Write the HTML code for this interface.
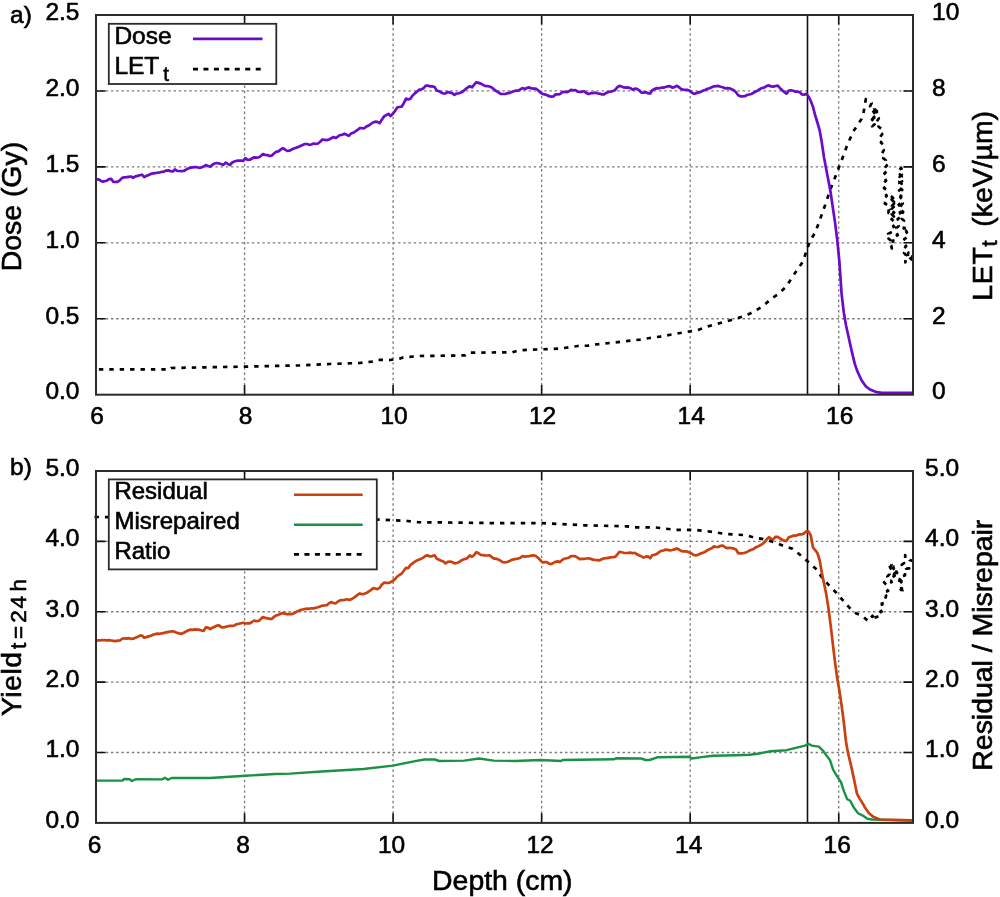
<!DOCTYPE html><html><head><meta charset="utf-8"><style>html,body{margin:0;padding:0;background:#fff;}svg{display:block;will-change:transform;}text{stroke:#000;stroke-width:0.6px;}</style></head><body>
<svg width="1000" height="897" viewBox="0 0 1000 897" font-family='"Liberation Sans", sans-serif' fill="#000">
<rect width="1000" height="897" fill="#fff"/>
<path d="M244.55,395.90V15.00M393.09,395.90V15.00M541.64,395.90V15.00M690.18,395.90V15.00M838.73,395.90V15.00M95.30,318.76H913.00M95.30,242.82H913.00M95.30,166.88H913.00M95.30,90.94H913.00" stroke="#7a7a7a" stroke-width="1.3" stroke-dasharray="2.4 2.82" fill="none"/>
<path d="M807.5,15.0V394.7" stroke="#111" stroke-width="1.6"/>
<polyline points="96.0,369.4 170.0,369.4 171.0,368.0 245.0,366.6 300.0,365.4 330.0,364.0 360.0,363.0 372.0,361.6 376.0,360.5 378.0,359.8 390.0,360.0 400.0,358.6 403.0,357.4 420.0,356.0 465.0,355.4 469.0,352.6 512.0,352.4 519.0,350.2 560.0,348.6 578.0,346.0 588.0,345.6 590.0,345.0 610.0,343.0 640.0,339.6 650.0,338.0 660.0,336.6 680.0,333.0 690.0,331.4 698.0,330.0 708.0,326.4 718.0,323.6 728.0,321.0 738.0,318.0 746.0,315.6 755.0,311.0 763.0,306.0 771.7,298.5 778.6,293.9 786.6,286.3 792.3,276.9 797.5,269.5 803.3,261.0 806.5,250.5 809.4,242.6 815.5,231.6 819.2,221.8 822.3,213.0 825.3,204.6 830.2,189.9 833.3,182.0 836.4,174.0 842.5,158.0 847.4,144.6 853.5,131.1 858.4,123.7 861.5,119.0 863.3,113.9 865.8,99.2 868.8,101.7 871.6,103.2 870.1,106.4 873.2,107.7 872.3,110.3 874.5,112.6 871.7,114.9 874.2,117.2 872.0,119.5 874.0,121.8 872.5,124.1 872.1,126.3 874.6,124.4 873.0,121.9 875.4,120.0 873.4,117.5 875.5,115.6 874.2,113.2 876.8,111.3 874.2,108.7 874.3,107.0 877.5,108.7 876.0,111.3 878.1,113.3 876.5,115.9 878.8,118.3 876.9,121.3 879.9,123.6 878.5,126.5 881.2,128.8 879.5,131.8 882.2,134.1 880.0,137.2 882.7,139.5 880.9,142.5 883.4,144.9 881.9,147.9 883.8,150.2 882.2,153.1 884.9,155.1 883.2,158.1 885.8,160.2 883.6,163.1 886.9,165.5 884.2,168.4 887.2,171.1 884.4,173.3 886.7,175.9 884.4,178.1 886.1,180.5 883.7,183.2 886.2,185.5 884.0,188.1 887.1,190.4 884.8,193.0 886.8,195.7 884.7,198.3 886.8,200.8 884.8,203.6 887.9,205.3 886.8,207.9 888.6,209.6 888.5,213.0 892.5,213.5 893.9,216.6 891.7,214.2 894.0,211.7 891.4,209.3 893.7,206.9 891.6,204.4 894.0,202.0 891.6,199.6 893.6,197.1 893.6,194.7 891.8,196.9 894.3,199.2 891.8,201.4 894.0,203.6 891.9,205.9 893.5,208.1 892.1,210.3 894.2,212.6 891.4,214.8 893.8,217.1 891.5,219.3 894.1,221.5 891.3,223.8 894.2,226.6 890.8,228.2 892.2,231.8 888.1,233.9 891.0,236.1 888.5,238.6 891.2,240.7 889.2,243.2 891.2,245.4 891.8,248.5 890.9,245.3 893.3,243.8 892.5,240.7 896.1,239.8 894.9,236.8 897.8,235.0 896.0,232.4 897.9,230.4 896.4,227.9 898.7,225.9 897.2,223.4 899.0,221.4 897.6,219.0 900.4,217.1 897.6,214.5 900.8,212.7 898.7,210.2 900.9,207.6 898.6,204.7 901.5,202.2 899.3,199.4 901.3,197.2 899.8,194.9 902.0,192.7 899.2,190.4 902.1,188.2 899.4,185.9 901.6,183.7 899.4,181.5 902.1,179.2 899.7,177.0 901.8,174.7 899.7,172.5 902.0,170.2 901.2,168.0 899.3,170.2 902.2,172.4 899.9,174.6 901.8,176.8 899.3,179.0 902.1,181.2 899.4,183.4 901.5,185.6 899.6,187.8 902.2,189.9 899.3,192.3 901.7,194.3 900.4,196.7 902.1,198.8 900.8,201.1 902.8,203.1 901.1,205.5 903.5,207.5 901.0,210.0 903.2,212.0 901.5,214.4 903.7,216.4 901.9,218.8 904.0,220.8 902.5,223.2 904.3,225.2 903.7,228.5 908.2,227.6 905.5,229.7 907.0,232.3 904.8,234.4 907.3,237.1 904.2,239.1 906.7,241.7 904.6,243.8 906.2,246.2 904.3,248.4 906.3,250.7 904.0,252.9 906.1,255.3 903.8,257.4 905.9,259.8 905.3,262.5 905.3,259.3 908.1,257.8 907.8,254.4 908.5,252.6 911.1,254.8 909.3,257.3 911.8,259.5 912.3,262.3 910.5,259.5 912.8,257.5 912.0,255.0" fill="none" stroke="#000" stroke-width="2.7" stroke-linejoin="round" stroke-dasharray="4.4 6" stroke-dashoffset="7.5"/>
<polyline points="95.8,179.7 98.0,179.2 100.2,180.3 102.4,181.6 104.6,181.2 106.8,180.7 109.0,179.2 111.2,178.9 113.4,182.0 115.6,181.8 117.8,181.8 120.0,180.1 122.2,177.9 124.4,177.3 126.6,177.2 128.8,176.8 131.0,176.5 133.2,177.8 135.4,176.4 137.6,175.9 139.8,175.3 142.0,174.7 144.2,177.1 146.4,175.9 148.6,174.9 150.8,173.9 153.0,173.4 155.2,173.2 157.4,172.7 159.6,172.5 161.8,171.8 164.0,171.6 166.2,170.6 168.4,170.4 170.6,171.1 172.8,171.5 175.0,169.4 177.2,171.0 179.4,171.0 181.6,171.2 183.8,171.0 186.0,169.6 188.2,168.5 190.4,167.7 192.6,167.4 194.8,167.1 197.0,167.2 199.2,167.8 201.4,167.5 203.6,166.6 205.8,165.1 208.0,165.9 210.2,166.7 212.4,164.7 214.6,163.5 216.8,163.0 219.0,163.5 221.2,164.0 223.4,164.9 225.6,162.6 227.8,163.9 230.0,165.0 232.2,162.5 234.4,161.5 236.6,160.8 238.8,160.5 241.0,160.6 243.2,160.9 245.4,158.2 247.6,159.8 249.8,159.7 252.0,158.5 254.2,157.3 256.4,157.7 258.6,157.4 260.8,156.1 263.0,154.0 265.2,155.0 267.4,155.1 269.6,156.0 271.8,155.6 274.0,153.5 276.2,151.7 278.4,151.4 280.6,149.6 282.8,148.1 285.0,149.5 287.2,151.0 289.4,150.7 291.6,149.6 293.8,148.6 296.0,147.8 298.2,146.9 300.4,145.9 302.6,144.9 304.8,144.0 307.0,144.0 309.2,144.8 311.4,144.5 313.6,143.5 315.8,143.8 318.0,143.5 320.2,141.8 322.4,139.5 324.6,139.8 326.8,140.1 329.0,139.5 331.2,138.3 333.4,137.0 335.6,138.0 337.8,136.6 340.0,135.0 342.2,134.8 344.4,133.7 346.6,134.7 348.8,135.9 351.0,133.6 353.2,132.8 355.4,131.4 357.6,129.9 359.8,128.0 362.0,128.2 364.2,128.3 366.4,126.6 368.6,125.6 370.8,124.0 373.0,122.5 375.2,121.7 377.4,121.9 379.6,123.2 381.8,119.8 384.0,116.5 386.2,115.1 388.4,113.8 390.6,116.1 392.8,113.8 395.0,111.0 397.2,107.5 399.4,107.0 401.6,106.7 403.8,103.2 406.0,98.6 408.2,99.5 410.4,98.8 412.6,95.6 414.8,93.4 417.0,91.6 419.2,89.7 421.4,89.3 423.6,88.2 425.8,85.6 428.0,85.5 430.2,86.4 432.4,86.4 434.6,87.0 436.8,90.6 439.0,91.2 441.2,92.5 443.4,93.5 445.6,93.4 447.8,92.0 450.0,92.6 452.2,93.2 454.4,94.8 456.6,93.5 458.8,93.3 461.0,92.5 463.2,91.3 465.4,89.3 467.6,87.5 469.8,86.3 472.0,87.3 474.2,84.7 476.4,82.2 478.6,82.9 480.8,83.6 483.0,84.9 485.2,86.0 487.4,86.2 489.6,86.5 491.8,87.4 494.0,89.3 496.2,91.1 498.4,92.3 500.6,93.9 502.8,94.0 505.0,94.0 507.2,93.4 509.4,92.9 511.6,92.0 513.8,91.2 516.0,90.6 518.2,90.7 520.4,89.3 522.6,88.1 524.8,88.9 527.0,87.9 529.2,87.4 531.4,88.4 533.6,88.6 535.8,88.5 538.0,90.2 540.2,92.4 542.4,93.9 544.6,94.4 546.8,95.0 549.0,96.2 551.2,96.6 553.4,96.5 555.6,94.3 557.8,94.3 560.0,94.1 562.2,92.2 564.4,91.8 566.6,92.3 568.8,91.3 571.0,89.9 573.2,90.3 575.4,90.0 577.6,91.6 579.8,91.9 582.0,91.8 584.2,91.3 586.4,93.1 588.6,94.1 590.8,93.2 593.0,93.1 595.2,92.7 597.4,93.3 599.6,93.6 601.8,94.4 604.0,94.4 606.2,92.9 608.4,92.0 610.6,91.6 612.8,91.0 615.0,90.2 617.2,87.4 619.4,85.9 621.6,86.5 623.8,87.4 626.0,87.7 628.2,87.4 630.4,88.2 632.6,89.7 634.8,88.7 637.0,88.9 639.2,90.3 641.4,92.6 643.6,92.7 645.8,92.1 648.0,93.3 650.2,93.4 652.4,90.2 654.6,89.0 656.8,88.1 659.0,88.3 661.2,87.7 663.4,87.6 665.6,87.0 667.8,86.3 670.0,86.2 672.2,87.6 674.4,87.1 676.6,85.8 678.8,87.0 681.0,89.0 683.2,89.6 685.4,89.9 687.6,89.9 689.8,90.8 692.0,92.8 694.2,93.9 696.4,93.1 698.6,92.4 700.8,91.9 703.0,90.6 705.2,90.0 707.4,88.7 709.6,88.2 711.8,87.2 714.0,86.3 716.2,86.1 718.4,85.9 720.6,86.7 722.8,87.2 725.0,88.3 727.2,88.2 729.4,88.3 731.6,89.2 733.8,90.2 736.0,92.2 738.2,95.2 740.4,96.3 742.6,96.4 744.8,96.2 747.0,95.0 749.2,94.5 751.4,94.0 753.6,92.7 755.8,91.5 758.0,90.4 760.2,88.8 762.4,88.0 764.6,87.4 766.8,85.9 769.0,85.4 771.2,86.4 773.4,86.6 775.6,86.0 777.8,85.6 780.0,88.1 782.2,90.3 784.4,92.1 786.6,93.6 788.8,90.5 791.0,90.3 793.2,90.8 795.4,91.7 797.6,91.6 799.8,92.3 802.0,94.4 804.2,94.7 806.4,93.8 808.6,96.7 810.8,101.0 813.0,106.9 815.2,115.5 817.4,122.5 819.6,130.1 821.8,142.6 824.0,157.3 826.2,169.1 828.4,180.5 830.6,192.2 832.8,207.5 835.0,222.1 837.2,239.5 839.4,261.8 841.6,293.8 843.8,312.5 846.0,325.3 848.2,335.2 850.4,345.2 852.6,354.9 854.8,363.9 857.0,370.4 859.2,375.2 861.4,380.0 863.6,383.2 865.8,386.3 866.0,386.5 870.0,389.5 875.5,391.8 882.0,392.8 912.0,392.8" fill="none" stroke="#6c0cc8" stroke-width="2.7" stroke-linejoin="round"/>
<path d="M244.55,394.70v-9.6M244.55,15.00v9.6M393.09,394.70v-9.6M393.09,15.00v9.6M541.64,394.70v-9.6M541.64,15.00v9.6M690.18,394.70v-9.6M690.18,15.00v9.6M838.73,394.70v-9.6M838.73,15.00v9.6M96.00,318.76h9.6M96.00,242.82h9.6M96.00,166.88h9.6M96.00,90.94h9.6M913.00,318.76h-9.6M913.00,242.82h-9.6M913.00,166.88h-9.6M913.00,90.94h-9.6" stroke="#111" stroke-width="1.6" fill="none"/>
<rect x="96.0" y="15.0" width="817.0" height="379.7" fill="none" stroke="#2b2b2b" stroke-width="2"/>
<rect x="108.8" y="23.8" width="167.5" height="60.2" fill="#fff" stroke="#2b2b2b" stroke-width="1.8"/>
<text x="114.4" y="44.2" font-size="24.5">Dose</text>
<text x="114.4" y="74.2" font-size="24.5">LET</text>
<text x="166" y="80.6" font-size="20.5" text-anchor="middle">t</text>
<path d="M193,38.8H262.5" stroke="#6c0cc8" stroke-width="2.7"/>
<path d="M193,69.2H262.5" stroke="#000" stroke-width="2.7" stroke-dasharray="5 5.45"/>
<path d="M244.55,824.10V471.00M393.09,824.10V471.00M541.64,824.10V471.00M690.18,824.10V471.00M838.73,824.10V471.00M95.30,752.52H913.00M95.30,682.14H913.00M95.30,611.76H913.00M95.30,541.38H913.00" stroke="#7a7a7a" stroke-width="1.3" stroke-dasharray="2.4 2.82" fill="none"/>
<path d="M807.5,471.0V822.9" stroke="#111" stroke-width="1.6"/>
<polyline points="94.5,517.0 200.0,517.5 300.0,518.5 376.3,519.5 407.5,521.0 418.0,522.2 475.0,522.8 497.5,523.2 520.0,523.2 542.5,523.2 584.5,525.3 626.5,526.3 633.6,527.4 655.2,527.4 664.8,528.6 675.6,529.8 695.4,530.0 705.6,531.0 715.8,532.4 725.4,534.0 735.6,534.6 746.2,535.2 755.8,538.0 764.2,539.2 774.4,542.2 783.4,545.8 792.4,548.8 800.8,555.4 808.6,562.3 815.7,568.6 822.0,577.5 830.0,586.4 836.3,592.7 842.5,599.8 849.6,607.9 855.9,613.2 862.1,615.9 868.5,621.3 872.5,615.8 876.6,620.5 875.8,617.0 879.4,616.5 878.1,613.2 881.6,611.7 879.6,608.5 882.5,606.8 881.7,603.6 885.6,602.6 884.9,599.7 886.2,595.6 883.2,592.5 888.2,590.9 885.6,588.7 886.9,585.5 884.1,582.4 888.2,579.7 887.3,576.6 889.5,574.1 887.6,570.9 890.8,568.4 889.0,565.3 888.8,563.0 891.5,564.6 890.3,567.5 892.8,569.1 892.2,571.8 894.8,573.4 893.3,575.9 894.4,578.5 891.6,580.1 891.1,582.4 893.9,580.4 891.8,577.7 894.8,575.7 892.8,573.0 895.2,570.9 893.2,568.2 893.9,566.6 897.8,568.5 896.1,572.4 899.0,574.4 897.6,577.3 899.9,579.4 898.9,582.4 901.5,584.9 901.2,587.9 902.5,591.1 901.2,593.3 899.5,590.8 902.0,588.7 900.3,586.2 902.9,584.1 900.6,581.6 902.8,579.5 901.2,576.5 905.0,575.4 905.2,571.6 909.2,568.4 906.1,568.6 905.7,565.6 901.7,564.9 904.1,563.0 902.5,560.4 905.2,558.5 905.2,555.1 906.1,557.8 908.7,557.9 909.5,560.0 912.6,560.9 912.2,563.6" fill="none" stroke="#000" stroke-width="2.7" stroke-linejoin="round" stroke-dasharray="4.4 6" stroke-dashoffset="0"/>
<polyline points="95.4,780.6 122.4,780.6 124.2,779.0 129.6,779.2 132.0,781.0 135.6,779.2 162.0,779.4 165.0,777.8 168.0,779.8 171.6,778.0 210.0,778.0 245.4,775.7 274.8,774.0 290.0,773.6 321.5,771.5 363.5,769.0 392.9,765.6 413.9,761.4 424.4,759.5 434.9,759.5 439.1,761.0 464.3,760.6 479.0,758.5 493.7,760.6 515.2,761.0 540.4,760.0 561.4,761.0 562.4,760.0 613.9,759.3 616.0,758.3 641.2,758.5 645.4,760.0 649.6,760.0 658.0,757.2 689.5,756.8 691.6,758.5 701.5,757.1 713.0,755.8 736.0,755.3 749.8,754.8 759.0,753.5 770.5,751.2 786.6,750.2 795.8,747.9 805.0,745.6 808.4,743.8 811.9,745.6 818.8,746.6 823.4,751.2 828.0,757.6 830.0,760.2 833.1,769.6 837.8,777.4 840.9,782.0 844.0,791.4 847.2,799.2 850.3,800.8 853.4,807.0 858.1,813.2 862.8,815.6 867.4,818.7 872.1,819.5 912.7,820.6" fill="none" stroke="#1a9246" stroke-width="2.4" stroke-linejoin="round"/>
<polyline points="95.8,640.6 98.0,640.3 100.2,640.3 102.4,640.1 104.6,640.2 106.8,640.4 109.0,640.2 111.2,640.5 113.4,640.8 115.6,641.1 117.8,640.7 120.0,640.5 122.2,638.8 124.4,638.3 126.6,638.6 128.8,638.1 131.0,638.9 133.2,638.7 135.4,637.8 137.6,636.9 139.8,635.6 142.0,635.6 144.2,637.7 146.4,637.1 148.6,636.4 150.8,635.8 153.0,634.7 155.2,634.1 157.4,633.7 159.6,633.8 161.8,633.3 164.0,632.9 166.2,632.3 168.4,631.9 170.6,631.5 172.8,631.3 175.0,632.1 177.2,632.9 179.4,633.4 181.6,633.8 183.8,632.7 186.0,631.5 188.2,630.5 190.4,629.6 192.6,629.8 194.8,629.4 197.0,629.6 199.2,629.7 201.4,630.5 203.6,631.0 205.8,627.4 208.0,627.7 210.2,629.2 212.4,627.7 214.6,626.8 216.8,625.6 219.0,625.3 221.2,627.1 223.4,627.5 225.6,626.9 227.8,626.3 230.0,625.8 232.2,625.9 234.4,625.5 236.6,624.3 238.8,623.8 241.0,623.2 243.2,622.7 245.4,623.3 247.6,623.3 249.8,623.3 252.0,622.0 254.2,620.5 256.4,621.2 258.6,621.0 260.8,619.1 263.0,617.0 265.2,617.9 267.4,618.3 269.6,618.9 271.8,618.9 274.0,616.8 276.2,615.3 278.4,614.9 280.6,613.7 282.8,613.1 285.0,613.6 287.2,614.2 289.4,614.0 291.6,614.2 293.8,613.2 296.0,612.0 298.2,611.1 300.4,610.0 302.6,609.5 304.8,609.0 307.0,608.6 309.2,608.8 311.4,608.3 313.6,608.4 315.8,607.7 318.0,607.2 320.2,606.4 322.4,605.6 324.6,605.5 326.8,605.2 329.0,603.3 331.2,602.1 333.4,603.0 335.6,603.3 337.8,601.7 340.0,600.4 342.2,600.2 344.4,600.0 346.6,599.3 348.8,599.8 351.0,599.4 353.2,598.1 355.4,596.6 357.6,594.8 359.8,593.4 362.0,594.2 364.2,593.8 366.4,593.0 368.6,591.6 370.8,590.2 373.0,588.2 375.2,588.5 377.4,589.2 379.6,587.9 381.8,584.7 384.0,582.7 386.2,582.8 388.4,583.0 390.6,582.2 392.8,580.8 395.0,579.2 397.2,576.5 399.4,575.0 401.6,573.7 403.8,570.8 406.0,567.8 408.2,568.2 410.4,564.9 412.6,563.4 414.8,561.7 417.0,560.4 419.2,559.6 421.4,558.7 423.6,557.4 425.8,555.7 428.0,555.4 430.2,556.4 432.4,556.1 434.6,555.3 436.8,558.8 439.0,559.7 441.2,560.7 443.4,561.5 445.6,563.4 447.8,561.9 450.0,561.5 452.2,562.0 454.4,563.3 456.6,563.0 458.8,562.3 461.0,560.6 463.2,559.5 465.4,558.9 467.6,557.9 469.8,555.4 472.0,556.8 474.2,554.9 476.4,552.2 478.6,553.3 480.8,555.0 483.0,555.2 485.2,555.4 487.4,555.5 489.6,555.3 491.8,557.1 494.0,558.6 496.2,558.7 498.4,559.6 500.6,560.8 502.8,562.1 505.0,562.3 507.2,562.0 509.4,561.1 511.6,559.9 513.8,559.4 516.0,558.8 518.2,558.6 520.4,557.8 522.6,556.0 524.8,556.7 527.0,556.4 529.2,556.2 531.4,555.6 533.6,555.3 535.8,556.0 538.0,557.8 540.2,559.9 542.4,562.5 544.6,562.2 546.8,562.1 549.0,563.6 551.2,564.1 553.4,562.9 555.6,561.8 557.8,561.4 560.0,562.1 562.2,559.9 564.4,558.8 566.6,558.2 568.8,557.7 571.0,556.2 573.2,556.0 575.4,556.4 577.6,557.7 579.8,559.2 582.0,558.8 584.2,558.8 586.4,558.5 588.6,558.4 590.8,558.9 593.0,559.6 595.2,559.9 597.4,560.1 599.6,560.3 601.8,559.2 604.0,558.3 606.2,558.2 608.4,557.8 610.6,557.4 612.8,557.1 615.0,557.0 617.2,554.6 619.4,551.8 621.6,552.3 623.8,552.8 626.0,553.0 628.2,552.9 630.4,552.6 632.6,553.3 634.8,552.8 637.0,554.3 639.2,555.5 641.4,556.3 643.6,557.6 645.8,556.7 648.0,556.3 650.2,558.2 652.4,555.0 654.6,554.8 656.8,553.9 659.0,552.2 661.2,550.9 663.4,550.5 665.6,549.6 667.8,549.9 670.0,550.3 672.2,550.0 674.4,549.4 676.6,548.4 678.8,549.4 681.0,550.9 683.2,551.4 685.4,551.4 687.6,551.7 689.8,552.7 692.0,553.8 694.2,555.1 696.4,555.3 698.6,554.4 700.8,553.4 703.0,552.7 705.2,551.8 707.4,550.2 709.6,549.1 711.8,548.2 714.0,546.4 716.2,547.0 718.4,547.0 720.6,545.8 722.8,545.5 725.0,547.2 727.2,548.2 729.4,547.9 731.6,548.0 733.8,548.6 736.0,549.5 738.2,553.2 740.4,553.4 742.6,553.3 744.8,552.8 747.0,551.9 749.2,550.8 751.4,549.7 753.6,548.9 755.8,547.3 758.0,546.4 760.2,545.3 762.4,544.1 764.6,542.1 766.8,539.3 769.0,537.2 771.2,538.8 773.4,539.1 775.6,536.8 777.8,536.9 780.0,538.5 782.2,539.7 784.4,540.8 786.6,540.8 788.8,537.2 791.0,536.6 793.2,535.7 795.4,535.7 797.6,534.9 799.8,534.4 802.0,534.4 804.2,533.2 806.4,531.3 808.6,531.6 810.8,535.4 813.0,547.5 815.2,550.1 817.4,553.0 819.6,560.0 821.8,572.6 824.0,583.1 826.2,594.1 828.4,607.6 830.6,624.9 832.8,643.7 835.0,662.0 837.2,678.1 839.4,690.6 841.6,705.4 843.8,722.2 846.0,741.7 848.2,753.9 850.4,762.8 852.6,772.6 854.8,783.0 857.0,793.7 859.2,797.9 861.4,801.4 863.6,804.9 865.1,807.8 869.0,813.2 873.7,817.1 879.9,819.5 912.7,820.3" fill="none" stroke="#ca400e" stroke-width="2.7" stroke-linejoin="round"/>
<path d="M244.55,822.90v-9.6M244.55,471.00v9.6M393.09,822.90v-9.6M393.09,471.00v9.6M541.64,822.90v-9.6M541.64,471.00v9.6M690.18,822.90v-9.6M690.18,471.00v9.6M838.73,822.90v-9.6M838.73,471.00v9.6M96.00,752.52h9.6M96.00,682.14h9.6M96.00,611.76h9.6M96.00,541.38h9.6M913.00,752.52h-9.6M913.00,682.14h-9.6M913.00,611.76h-9.6M913.00,541.38h-9.6" stroke="#111" stroke-width="1.6" fill="none"/>
<rect x="96.0" y="471.0" width="817.0" height="351.9" fill="none" stroke="#2b2b2b" stroke-width="2"/>
<rect x="108.8" y="479.4" width="268" height="90" fill="#fff" stroke="#2b2b2b" stroke-width="1.8"/>
<text x="114.4" y="499.4" font-size="24">Residual</text>
<text x="114.4" y="529.4" font-size="24">Misrepaired</text>
<text x="114.4" y="559.2" font-size="24">Ratio</text>
<path d="M294,494.7H362.7" stroke="#ca400e" stroke-width="2.5"/>
<path d="M294,524.7H362.7" stroke="#1a9246" stroke-width="2.5"/>
<path d="M294,554.4H363" stroke="#000" stroke-width="2.7" stroke-dasharray="5 5.45"/>
<text x="79.5" y="399.4" font-size="24.5" text-anchor="end">0.0</text>
<text x="79.5" y="323.5" font-size="24.5" text-anchor="end">0.5</text>
<text x="79.5" y="247.5" font-size="24.5" text-anchor="end">1.0</text>
<text x="79.5" y="171.6" font-size="24.5" text-anchor="end">1.5</text>
<text x="79.5" y="95.6" font-size="24.5" text-anchor="end">2.0</text>
<text x="79.5" y="19.7" font-size="24.5" text-anchor="end">2.5</text>
<text x="932.0" y="399.4" font-size="24.5" text-anchor="start">0</text>
<text x="932.0" y="323.5" font-size="24.5" text-anchor="start">2</text>
<text x="932.0" y="247.5" font-size="24.5" text-anchor="start">4</text>
<text x="932.0" y="171.6" font-size="24.5" text-anchor="start">6</text>
<text x="932.0" y="95.6" font-size="24.5" text-anchor="start">8</text>
<text x="932.0" y="19.7" font-size="24.5" text-anchor="start">10</text>
<text x="97.0" y="424.2" font-size="24.5" text-anchor="middle">6</text>
<text x="245.5" y="424.2" font-size="24.5" text-anchor="middle">8</text>
<text x="394.1" y="424.2" font-size="24.5" text-anchor="middle">10</text>
<text x="542.6" y="424.2" font-size="24.5" text-anchor="middle">12</text>
<text x="691.2" y="424.2" font-size="24.5" text-anchor="middle">14</text>
<text x="839.7" y="424.2" font-size="24.5" text-anchor="middle">16</text>
<text x="79.5" y="827.6" font-size="24.5" text-anchor="end">0.0</text>
<text x="79.5" y="757.2" font-size="24.5" text-anchor="end">1.0</text>
<text x="79.5" y="686.8" font-size="24.5" text-anchor="end">2.0</text>
<text x="79.5" y="616.5" font-size="24.5" text-anchor="end">3.0</text>
<text x="79.5" y="546.1" font-size="24.5" text-anchor="end">4.0</text>
<text x="79.5" y="475.7" font-size="24.5" text-anchor="end">5.0</text>
<text x="925.0" y="827.6" font-size="24.5" text-anchor="start">0.0</text>
<text x="925.0" y="757.2" font-size="24.5" text-anchor="start">1.0</text>
<text x="925.0" y="686.8" font-size="24.5" text-anchor="start">2.0</text>
<text x="925.0" y="616.5" font-size="24.5" text-anchor="start">3.0</text>
<text x="925.0" y="546.1" font-size="24.5" text-anchor="start">4.0</text>
<text x="925.0" y="475.7" font-size="24.5" text-anchor="start">5.0</text>
<text x="94.5" y="852.6" font-size="24.5" text-anchor="middle">6</text>
<text x="243.0" y="852.6" font-size="24.5" text-anchor="middle">8</text>
<text x="391.6" y="852.6" font-size="24.5" text-anchor="middle">10</text>
<text x="540.1" y="852.6" font-size="24.5" text-anchor="middle">12</text>
<text x="688.7" y="852.6" font-size="24.5" text-anchor="middle">14</text>
<text x="837.2" y="852.6" font-size="24.5" text-anchor="middle">16</text>
<text x="10.0" y="23.2" font-size="24.5" text-anchor="start">a)</text>
<text x="10.0" y="475.0" font-size="24.5" text-anchor="start">b)</text>
<text x="502.3" y="889.6" font-size="28.4" text-anchor="middle">Depth (cm)</text>
<text transform="translate(21,206.6) rotate(-90)" font-size="28.4" text-anchor="middle">Dose (Gy)</text>
<text transform="translate(992,645.2) rotate(-90)" font-size="28.4" text-anchor="middle">Residual / Misrepair</text>
<text transform="translate(991.8,273.6) rotate(-90)" font-size="28.4" text-anchor="middle" letter-spacing="0.8">LET</text>
<text transform="translate(996.6,243.4) rotate(-90)" font-size="22" text-anchor="middle">t</text>
<text transform="translate(991.8,168.8) rotate(-90)" font-size="28.4" text-anchor="middle">(keV/µm)</text>
<text transform="translate(21,683.8) rotate(-90)" font-size="28.4" text-anchor="middle" letter-spacing="0.5">Yield</text>
<text transform="translate(26.2,645.9) rotate(-90)" font-size="22.5" text-anchor="middle">t</text>
<text transform="translate(26.2,632.5) rotate(-90)" font-size="22.5" text-anchor="middle">=</text>
<text transform="translate(26.2,616.45) rotate(-90)" font-size="22.5" text-anchor="middle">2</text>
<text transform="translate(26.2,602.15) rotate(-90)" font-size="22.5" text-anchor="middle">4</text>
<text transform="translate(26.2,585.2) rotate(-90)" font-size="22.5" text-anchor="middle">h</text>
</svg></body></html>
